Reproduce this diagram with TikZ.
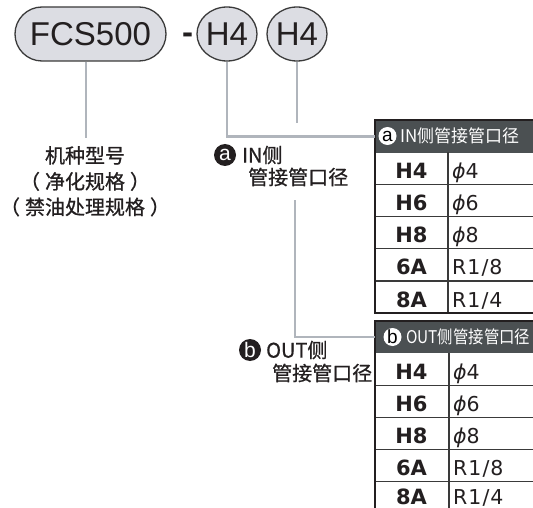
\documentclass[tikz,border=0pt]{standalone}
\usepackage{fontspec}
\setmainfont{Liberation Sans}
\newfontfamily\cjk[FakeBold=0.8]{Noto Sans CJK SC}
\newfontfamily\cjkh{Noto Sans CJK SC}
\newfontfamily\dvb{DejaVu Sans}
\newfontfamily\dvs[LetterSpace=5]{DejaVu Sans}
\usetikzlibrary{shapes.misc,shapes.geometric}
\definecolor{pillfill}{HTML}{DCDDE3}
\definecolor{conncol}{HTML}{B0B5BC}
\definecolor{ink}{HTML}{231F20}
\definecolor{hdrcol}{HTML}{4B5052}
\definecolor{gridcol}{HTML}{3A3A3A}
\begin{document}
\begin{tikzpicture}[x=1pt,y=-1pt,
  pill/.style={shape=rounded rectangle, draw=gridcol, line width=1.3pt, fill=pillfill,
    minimum width=151pt, minimum height=54pt, inner sep=0pt, text=ink,
    font=\fontsize{33}{36}\selectfont},
  oval/.style={shape=ellipse, draw=gridcol, line width=1.3pt, fill=pillfill,
    minimum width=60pt, minimum height=54pt, inner sep=0pt, text=ink,
    font=\fontsize{33}{36}\selectfont},
  conn/.style={draw=conncol, line width=2.2pt},
  cjktext/.style={inner sep=0pt, text=ink, font=\cjk\fontsize{20}{24}\selectfont},
  badge/.style={shape=circle, fill=ink, text=white, minimum size=22pt, inner sep=0pt,
    font=\fontsize{21}{22}\selectfont},
  hbadge/.style={shape=circle, fill=white, text=black, minimum size=18pt, inner sep=0pt,
    font=\fontsize{19}{20}\selectfont},
  hdrbox/.style={fill=hdrcol, minimum width=170pt, minimum height=32.5pt, inner sep=0pt, anchor=north west},
  hdrtext/.style={inner sep=0pt, text=white, anchor=west, font=\cjkh\fontsize{17.5}{20}\selectfont},
  outer/.style={draw=ink, line width=2pt},
  inner/.style={draw=gridcol, line width=1.2pt},
  code/.style={inner sep=0pt, anchor=base, text=ink, font=\dvb\bfseries\fontsize{21}{24}\selectfont},
  val/.style={inner sep=0pt, anchor=base west, text=ink, font=\dvs\fontsize{20.5}{24}\selectfont}
]
\useasboundingbox (0,0) rectangle (533,508);
\clip (0,0) rectangle (533,508);
\fill[white] (0,0) rectangle (533,508);

% top code
\node[pill] (fcs) at (90.5,34) {FCS500};
\node[inner sep=0pt, anchor=base, text=ink, font=\bfseries\fontsize{33}{36}\selectfont] (dash) at (187.5,44) {-};
\node[oval] (h4a) at (227,34) {H4};
\node[oval] (h4b) at (297,34) {H4};

% left description
\node[cjktext, anchor=base] (m1) at (85,163) {机种型号};
\node[cjktext, anchor=base] (m2) at (85,189) {（\hspace{5pt}净化规格\hspace{5pt}）};
\node[cjktext, anchor=base] (m3) at (85,214.5) {（\hspace{5pt}禁油处理规格\hspace{5pt}）};

% IN label
\node[badge] (ba) at (225,155) {a};
\node[cjktext, anchor=west] (inA1) at (242,155) {IN侧};
\node[cjktext, anchor=west] (inA2) at (248,177) {管接管口径};

% OUT label
\node[badge] (bb) at (250,350) {b};
\node[cjktext, anchor=west] (outB1) at (266,350) {OUT侧};
\node[cjktext, anchor=west] (outB2) at (272,373) {管接管口径};

% table A
\node[hdrbox] (hdrA) at (375,120) {};
\node[hbadge] (hba) at (387.5,136) {a};
\node[hdrtext] (hta) at (400,136) {\scalebox{0.97}[1]{IN侧管接管口径}};
\draw[inner] (375,184.6) -- (540,184.6) (375,216.7) -- (540,216.7)
             (375,248.8) -- (540,248.8) (375,280.9) -- (540,280.9);
\draw[inner] (448,152.5) -- (448,313);
\draw[outer] (540,120) -- (375,120) -- (375,313) -- (540,313);
\node[code] (a1c) at (411.5,178.6) {H4};
\node[code] (a2c) at (411.5,210.7) {H6};
\node[code] (a3c) at (411.5,242.8) {H8};
\node[code] (a4c) at (411.5,274.9) {6A};
\node[code] (a5c) at (411.5,307) {8A};
\node[val] (a1v) at (452,178.6) {{\itshape ϕ}4};
\node[val] (a2v) at (452,210.7) {{\itshape ϕ}6};
\node[val] (a3v) at (452,242.8) {{\itshape ϕ}8};
\node[val] (a4v) at (452,274.9) {R1/8};
\node[val] (a5v) at (452,307) {R1/4};

% table B
\node[hdrbox] (hdrB) at (375,320.5) {};
\node[hbadge] (hbb) at (392.5,337) {b};
\node[hdrtext] (htb) at (406,337) {\scalebox{0.88}[1]{OUT侧管接管口径}};
\draw[inner] (375,385.1) -- (540,385.1) (375,417.2) -- (540,417.2)
             (375,449.3) -- (540,449.3) (375,481.4) -- (540,481.4);
\draw[inner] (449,353) -- (449,520);
\draw[outer] (540,320.5) -- (375,320.5) -- (375,520);
\node[code] (b1c) at (411.5,379.1) {H4};
\node[code] (b2c) at (411.5,411.2) {H6};
\node[code] (b3c) at (411.5,443.3) {H8};
\node[code] (b4c) at (411.5,475.4) {6A};
\node[code] (b5c) at (411.5,504.5) {8A};
\node[val] (b1v) at (453,379.1) {{\itshape ϕ}4};
\node[val] (b2v) at (453,411.2) {{\itshape ϕ}6};
\node[val] (b3v) at (453,443.3) {{\itshape ϕ}8};
\node[val] (b4v) at (453,475.4) {R1/8};
\node[val] (b5v) at (453,504.5) {R1/4};

% connectors
\coordinate (fcsend) at (86,138);
\coordinate (h4bend) at (297,123);
\coordinate (outtop) at (295,200);
\draw[conn] (fcsend |- fcs.south) -- (fcsend);
\draw[conn] (h4a.south) |- (hdrA.west);
\draw[conn] (h4b.south) -- (h4bend);
\draw[conn] (outtop) |- (hdrB.west);
\end{tikzpicture}
\end{document}
